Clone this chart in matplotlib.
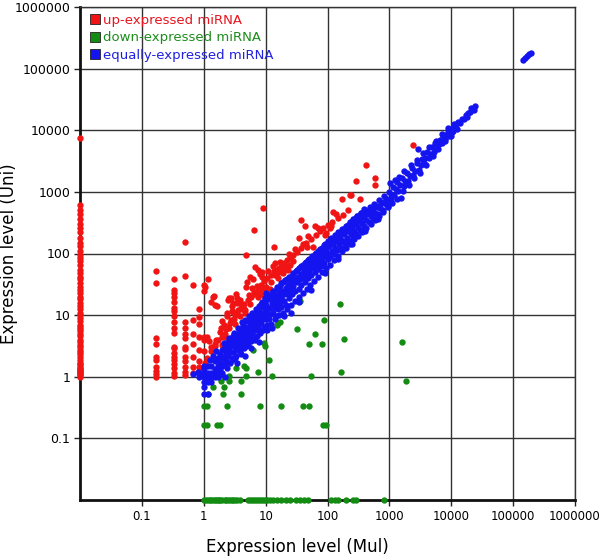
import numpy as np
import matplotlib
matplotlib.use("Agg")
import matplotlib.pyplot as plt
from matplotlib.lines import Line2D

# ---- data (Mul = x, Uni = y); 0 means "not detected" ----
up_x = ([0] * 60 +
        [0.167] * 10 + [0.333] * 20 + [0.5] * 13 + [0.667] * 7 + [0.833] * 8 + [1] * 5 +
        [1.18, 1.11, 1.23, 1.33, 1.33, 1.46, 1.66, 1.5, 1.7, 1.94, 1.42, 1.5, 1.05,
         2.34, 2.8, 2.1, 2.5, 1.83, 2.2, 1.6, 1.94, 1.5, 1.33, 1.11, 1.05,
         2.5, 2.6, 3.0, 3.4, 3.85, 3.6, 4.1, 4.6, 3.2, 2.9, 3.85, 3.4, 4.4, 3.0, 2.8,
         4.9, 6.5, 9.1, 13.8, 36.7, 37.3, 44, 49,
         6.7, 7.6, 8.1, 5.6, 4.9, 6.0, 7.2, 8.6, 10.3, 11.6, 5.3, 6.4, 7.6, 9.1,
         13.4, 17, 18.8, 20.2, 21, 18, 19.6, 21.8, 15, 14.3, 8.6,
         46, 59, 124, 138, 213, 169, 334, 230, 236, 583, 583, 288, 417, 2430,
         62, 108, 96, 91, 115,
         2.3, 2.7, 3.1, 3.5, 4.0, 4.5, 5.1, 5.8, 6.6, 7.4, 8.3, 9.4, 10.6, 12, 13.5,
         15, 16.5, 18, 20, 22, 25, 28, 32, 40, 45, 55, 65, 75, 85, 100, 120, 150, 180,
         16, 12, 9.5, 7.7, 5.5, 4.6, 3.8, 3.2, 2.6, 2.2, 1.9, 2.0, 2.4, 2.9, 3.3, 5.0,
         6.2, 8.8, 11, 14, 24, 30, 35, 70, 25, 28, 19, 23])
up_y = ([7450, 620, 500, 430, 360, 300, 260, 220, 180, 150, 130, 110,
         95, 85, 75, 65, 55, 48, 42, 38, 33, 29, 26, 23, 20, 18, 16, 14, 12.5, 11, 10,
         9, 8, 7, 6.5, 6, 5.5, 5, 4.5, 4, 3.6, 3.3, 3, 2.7, 2.5, 2.3, 2.1, 1.9, 1.7,
         1.6, 1.5, 1.4, 1.3, 1.2, 1.1, 1.0, 1.05, 1.15, 1.25, 1.35] +
        [52.7, 33.7, 4.2, 3.4, 2.1, 1.87, 1.46, 1.26, 1.11, 1.0] +
        [39, 26, 23, 19.7, 16.6, 13.2, 11.8, 9.5, 7.8, 6.1, 5.1, 3.08, 2.9, 2.46, 2.07,
         1.87, 1.61, 1.37, 1.14, 1.03] +
        [156, 43, 7.6, 6.1, 4.95, 4.2, 3.08, 2.81, 2.07, 1.78, 1.46, 1.21, 1.06] +
        [31, 8.4, 4.95, 3.4, 2.1, 1.46, 1.17] +
        [12.5, 9.2, 7.2, 4.4, 2.72, 1.78, 1.46, 1.26] +
        [31, 25, 4.4, 3.9, 2.6] +
        [39, 4.4, 3.8, 3.08, 16.6, 20.5, 14.1, 3.4, 3.9, 4.4, 19.8, 14.5, 28.6,
         9.5, 8.4, 6.9, 6.5, 5.3, 4.4, 3.9, 3.3, 3.1, 2.6, 2.0, 1.67,
         17.7, 18.8, 15.5, 18.8, 15.8, 12.3, 12.8, 10.7, 10, 11.5, 17.7, 15.5, 12.8, 11.4, 18.8,
         95, 242, 543, 129, 122, 351, 280, 193,
         60, 54, 46.7, 42, 29, 28, 30, 27, 29, 27, 21, 22, 20, 21,
         63, 74, 65, 62, 58, 51, 54, 62, 54, 45, 51,
         129, 129, 466, 440, 510, 760, 760, 894, 894, 1650, 1280, 1525, 2740, 5730,
         280, 259, 213, 200, 280,
         6.0, 7.5, 8.8, 10.5, 13, 15, 17.5, 20, 24, 26, 31, 36, 40, 45, 52,
         48, 58, 60, 70, 78, 85, 95, 105, 140, 150, 175, 200, 230, 260, 290, 330, 370, 420,
         40, 35, 28, 23, 15, 12, 9.5, 7.2, 6.2, 5.0, 6.2, 8.0, 11, 14, 22, 34,
         38, 42, 52, 70, 100, 120, 180, 260, 65, 75, 48, 55])

down_x = [159, 36, 87.5, 16, 17, 15.5, 32, 63, 49.5, 80, 186, 1610, 1840, 168, 55, 12.5,
          7.6, 11.3, 9.8, 9.4, 6.2, 4.5, 4.8, 3.3, 4.8, 4.0, 2.6, 2.6, 1.9, 2.1, 1.4,
          2.05, 4.0, 1.18, 1.0, 1.14, 2.4, 8.1, 17.9, 39.6, 51, 1.0, 1.14, 1.66, 1.84,
          85, 96,
          1.0, 1.08, 1.17, 1.25, 1.33, 1.42, 1.5, 1.58, 1.67, 1.75, 1.83, 2.0, 2.17,
          2.33, 2.5, 2.67, 2.83, 3.0, 3.17, 3.5, 3.83, 5.2, 5.5, 6.0, 6.5, 7.0, 7.5,
          8.1, 8.7, 9.4, 10.0, 10.5, 11.6, 13.0, 15.2, 17.9, 21.4, 24.7, 31, 36, 41.7,
          48, 116, 130, 146, 202, 255, 293, 830]
down_y = [15.2, 17, 8.4, 7.5, 7.8, 6.8, 5.9, 4.9, 3.4, 3.4, 4.1, 3.6, 0.86, 1.18, 1.03,
          1.03, 1.18, 1.87, 3.1, 3.5, 2.75, 1.5, 1.37, 1.37, 1.03, 0.86, 1.03, 0.86,
          0.86, 0.67, 0.67, 0.53, 0.53, 0.53, 0.34, 0.34, 0.34, 0.34, 0.34, 0.34, 0.34,
          0.167, 0.167, 0.167, 0.167, 0.167, 0.167] + [0] * 49

equal_xy = [
    (0.67, 1.11), (0.8, 1.2), (0.83, 1.11), (0.83, 1.0), (1, 1.0), (1, 1.17), (1, 1.33),
    (1, 1.5), (1, 0.83), (1, 0.69), (1, 0.53), (1.17, 0.53), (1.17, 0.83), (1.17, 1.0),
    (1.17, 1.17), (1.17, 1.5), (1.33, 0.83), (1.33, 1.0), (1.33, 1.17), (1.33, 1.5),
    (1.5, 1.0), (1.5, 1.17), (1.5, 1.33), (1.5, 1.83), (1.67, 1.0), (1.67, 1.17),
    (1.67, 1.5), (1.67, 2.0), (1.83, 1.33), (1.83, 1.67), (1.83, 2.33), (2, 1.17),
    (2, 1.5), (2, 2.0), (2, 2.67), (2.17, 1.67), (2.17, 2.17), (2.17, 3.0), (2.33, 1.83),
    (2.33, 2.5), (2.33, 3.33), (2.5, 2.17), (2.5, 2.83), (2.5, 3.67), (2.67, 1.67),
    (2.67, 2.5), (2.67, 3.17), (2.83, 2.0), (2.83, 3.17), (2.83, 4.0), (3, 2.5), (3, 3.33),
    (3, 4.5), (3.17, 2.0), (3.17, 3.67), (3.33, 2.83), (3.33, 4.17), (3.5, 2.67),
    (3.5, 3.5), (3.5, 5.0), (3.67, 3.0), (3.67, 4.5), (3.83, 3.33), (3.83, 5.5), (4, 2.33),
    (4, 4.0), (4, 6.0), (4.17, 3.5), (4.17, 5.0), (4.33, 4.33), (4.33, 7.0), (4.5, 3.83),
    (4.5, 5.5), (4.67, 4.67), (4.67, 6.5), (4.83, 3.17), (5, 4.0), (5, 5.33), (5, 8.0),
    (5.17, 6.0), (5.33, 4.5), (5.5, 5.0), (5.5, 7.0), (5.67, 9.0), (5.83, 4.5),
    (5.83, 6.33), (5.9, 2.9), (6, 5.0), (6, 7.5), (6.17, 8.5), (6.33, 5.5), (6.5, 6.5),
    (6.5, 10.0), (6.67, 4.0), (6.83, 7.17), (7, 8.0), (7, 11.0), (7.17, 5.83), (7.33, 9.0),
    (7.5, 6.5), (7.5, 12.0), (7.83, 8.0), (7.83, 13.0), (8, 5.5), (8.17, 10.0), (8.5, 7.5),
    (8.5, 15.0), (8.83, 11.0), (9, 8.5), (9, 13.5), (9.33, 6.5), (9.5, 10.5), (9.67, 17.0),
    (10, 8.5), (10, 12.0), (10.3, 22.7), (10.3, 14.5), (10.6, 5.75), (10.8, 10.0),
    (11, 18.0), (11.3, 8.5), (11.7, 13.0), (12, 20.0), (12, 10.5), (12.5, 15.5), (13, 11.0),
    (13, 24.0), (13.5, 17.0), (14, 13.0), (14, 21.0), (14.5, 9.5), (15, 15.0), (15, 27.0),
    (15.5, 19.0), (16, 12.5), (16.5, 22.0), (17, 16.0), (17, 30.0), (18, 19.0), (18, 13.5),
    (18.5, 25.0), (19, 34.0), (20, 17.0), (20, 22.0), (21, 28.0), (21, 14.5), (22, 38.0),
    (23, 22.0), (23, 31.0), (24, 19.0), (25, 42.0), (25, 27.0), (26, 34.0), (27, 22.0),
    (28, 46.0), (28, 30.0), (29, 38.0), (30, 25.0), (31, 52.0), (32, 34.0), (33, 42.0),
    (34, 27.0), (35, 58.0), (36, 38.0), (37, 47.0), (38, 31.0), (40, 64.0), (40, 42.0),
    (42, 52.0), (43, 35.0), (45, 72.0), (45, 47.0), (47, 58.0), (48, 40.0), (50, 80.0),
    (50, 52.0), (53, 64.0), (55, 45.0), (56, 90.0), (58, 58.0), (60, 72.0), (62, 50.0),
    (63, 100.0), (65, 65.0), (67, 80.0), (70, 56.0), (70, 110.0), (73, 72.0), (75, 90.0),
    (78, 62.0), (80, 125.0), (82, 82.0), (85, 100.0), (88, 70.0), (90, 140.0), (92, 90.0),
    (95, 115.0), (100, 80.0), (100, 160.0), (103, 100.0), (107, 130.0), (110, 90.0),
    (115, 180.0), (118, 110.0), (122, 145.0), (126, 100.0), (130, 200.0), (134, 125.0),
    (140, 160.0), (145, 112.0), (150, 225.0), (155, 140.0), (160, 180.0), (166, 125.0),
    (172, 250.0), (178, 160.0), (185, 205.0), (190, 140.0), (198, 280.0), (205, 180.0),
    (212, 230.0), (220, 160.0), (228, 320.0), (236, 205.0), (245, 260.0), (255, 180.0),
    (262, 360.0), (272, 235.0), (282, 300.0), (292, 210.0), (302, 400.0), (315, 270.0),
    (325, 340.0), (340, 240.0), (350, 450.0), (365, 310.0), (380, 390.0), (395, 275.0),
    (410, 510.0), (425, 350.0), (440, 440.0), (460, 320.0), (480, 560.0), (500, 400.0),
    (520, 490.0), (545, 370.0), (570, 640.0), (590, 460.0), (620, 560.0), (650, 430.0),
    (680, 740.0), (710, 540.0), (750, 650.0), (790, 500.0), (830, 850.0), (870, 640.0),
    (920, 760.0), (960, 590.0), (1000, 980.0), (1050, 760.0), (1100, 900.0),
    (1150, 1200.0), (1200, 880.0), (1300, 1100.0), (1350, 1450.0), (1400, 1050.0),
    (1500, 1300.0), (1560, 810.0), (1600, 1700.0), (1700, 1250.0), (1800, 1500.0),
    (1900, 2000.0), (2000, 1500.0), (2150, 1800.0), (2300, 2400.0), (2450, 1850.0),
    (2600, 2200.0), (2750, 2900.0), (2900, 4930.0), (3000, 2300.0), (3200, 2700.0),
    (3400, 3400.0), (3600, 2900.0), (3800, 3600.0), (4100, 4400.0), (4300, 3500.0),
    (4600, 4100.0), (4900, 5300.0), (5200, 4500.0), (5500, 6200.0), (5900, 5200.0),
    (6300, 5900.0), (6600, 7000.0), (7000, 6200.0), (7400, 8000.0), (7800, 7200.0),
    (8200, 8300.0), (8700, 9300.0), (9200, 8000.0), (9800, 10500.0), (10300, 9300.0),
    (10800, 9800.0), (11500, 11200.0), (12000, 12500.0), (13000, 13500.0),
    (14000, 13000.0), (15000, 15500.0), (17000, 17500.0), (19000, 19000.0),
    (21000, 23000.0), (23000, 21000.0), (145000, 140000.0), (155000, 150000.0),
    (165000, 160000.0), (180000, 170000.0), (195000, 180000.0),
    # second pass over the band: its edges and the crowded middle
    (1.25, 1.9), (1.4, 2.2), (1.6, 2.6), (1.9, 1.1), (2.1, 3.5), (2.4, 1.4), (2.6, 4.2),
    (2.9, 1.9), (3.1, 5.2), (3.3, 2.2), (3.6, 6.2), (3.9, 2.6), (4.2, 7.6), (4.4, 2.9),
    (4.7, 8.2), (5.1, 3.3), (5.4, 9.8), (5.7, 3.8), (6.1, 11), (6.4, 4.3), (6.9, 12.5),
    (7.2, 4.6), (7.7, 14), (8.1, 5.2), (8.7, 16.5), (9.2, 5.8), (9.9, 19), (10.5, 6.8),
    (11.5, 21), (12.3, 7.2), (13.2, 25), (14.2, 8.5), (15.3, 29), (16.4, 10), (17.6, 33),
    (18.8, 11), (20.5, 37), (22, 12.5), (23.5, 42), (25.5, 14.5), (27.5, 48), (29.5, 17),
    (32, 55), (34.5, 19.5), (37, 62), (40, 23), (43, 70), (46, 27), (49, 78), (53, 31),
    (57, 88), (61, 36), (66, 102), (71, 42), (76, 118), (82, 50), (88, 135), (95, 58),
    (102, 150), (110, 66), (118, 170), (127, 78), (137, 195), (148, 92), (160, 215),
    (172, 108), (185, 240), (200, 125), (215, 265), (232, 145), (250, 300), (270, 170),
    (290, 330), (315, 195), (340, 370), (365, 225), (395, 420), (425, 260), (460, 470),
    (500, 300), (540, 530), (585, 350), (630, 600), (680, 410), (740, 680), (800, 480),
    (870, 780), (940, 560), (1020, 1400), (1100, 650), (1250, 1550), (1350, 780),
    (1450, 1750), (1650, 1050), (1750, 2200), (2050, 1300), (2200, 2700), (2500, 1650),
    (2800, 3300), (3100, 2000), (3500, 4200), (3900, 2700), (4400, 5400), (5000, 3800),
    (5600, 6800), (6200, 5000), (7100, 8600), (8000, 6800), (9000, 11000), (10000, 8200),
    (11000, 12700), (12500, 10500), (16000, 15000), (18000, 16500), (20000, 20000),
    (24000, 24500),
    (3.2, 3.1), (3.7, 3.9), (4.3, 4.6), (4.9, 5.0), (5.6, 6.2), (6.3, 7.0), (7.1, 7.8),
    (8.0, 9.0), (9.0, 10.2), (10.2, 11.5), (11.5, 13.2), (13, 15), (14.7, 17),
    (16.6, 19.5), (18.8, 22), (21.2, 25), (24, 28.5), (27, 32.5), (30.5, 37), (34.5, 42),
    (39, 47), (44, 54), (50, 61), (56, 70), (63, 79), (71, 90), (80, 102), (90, 117),
    (102, 133), (115, 150), (130, 172), (147, 195), (166, 220), (188, 250), (212, 285),
    (240, 320), (270, 365), (305, 410), (345, 460), (390, 520),
    (2.2, 1.0), (3.4, 1.7), (4.6, 2.2), (7.8, 3.7), (12.8, 6.2), (20, 9.5), (26, 11),
    (35, 16.5), (55, 26), (90, 48), (150, 80), (250, 140), (400, 230), (650, 360),
]

labels = ["up-expressed miRNA", "down-expressed miRNA", "equally-expressed miRNA"]
dot_colors = ["#f01414", "#148c14", "#1414f0"]
ticks = [0.1, 1, 10, 100, 1000, 10000, 100000, 1000000]
tick_labels = ["0.1", "1", "10", "100", "1000", "10000", "100000", "1000000"]

floor = 0.01  # zeros are drawn on the axis floor


def at_floor(v):
    v = np.asarray(v, dtype=float)
    return np.where(v <= 0, floor, v)


fig = plt.figure(figsize=(6, 5.58), dpi=100)
ax = fig.add_axes([80 / 600, 58 / 558, 495 / 600, 493 / 558])
ax.set_xscale("log")
ax.set_yscale("log")
ax.set_xlim(floor, 1e6)
ax.set_ylim(floor, 1e6)

ex = [p[0] for p in equal_xy]
ey = [p[1] for p in equal_xy]
ax.scatter(at_floor(up_x), at_floor(up_y), s=21, c=dot_colors[0], lw=0, zorder=3, clip_on=False)
ax.scatter(at_floor(down_x), at_floor(down_y), s=21, c=dot_colors[1], lw=0, zorder=3, clip_on=False)
ax.scatter(ex, ey, s=21, c=dot_colors[2], lw=0, zorder=4, clip_on=False)

ax.set_xticks(ticks)
ax.set_xticklabels(tick_labels)
ax.set_yticks(ticks)
ax.set_yticklabels(tick_labels)
ax.minorticks_off()
ax.tick_params(length=4, width=1, pad=3, color="#222222")
ax.tick_params(axis="x", labelsize=8.5)
ax.tick_params(axis="y", labelsize=9)
ax.grid(True, color="#333333", lw=1)
ax.set_axisbelow(True)
for side in ["left", "bottom"]:
    ax.spines[side].set_linewidth(2)
    ax.spines[side].set_color("#111111")
for side in ["top", "right"]:
    ax.spines[side].set_linewidth(1)
    ax.spines[side].set_color("#333333")

ax.set_xlabel("Expression level (Mul)", fontsize=12)
ax.set_ylabel("Expression level (Uni)", fontsize=12)
ax.xaxis.set_label_coords(0.44, -0.078)
ax.yaxis.set_label_coords(-0.125, 0.5)

handles = [Line2D([], [], ls="none", marker="s", ms=7, mfc=c, mec="#222222", mew=0.6)
           for c in dot_colors]
ax.legend(handles, labels, loc="upper left", bbox_to_anchor=(0.0, 1.005), frameon=False,
          fontsize=9.5, handlelength=0.8, handletextpad=0.25, labelspacing=0.35,
          borderaxespad=0.3, labelcolor=["#e8141e", "#1c8c1c", "#2020e0"])

fig.savefig("out.png", dpi=100)
